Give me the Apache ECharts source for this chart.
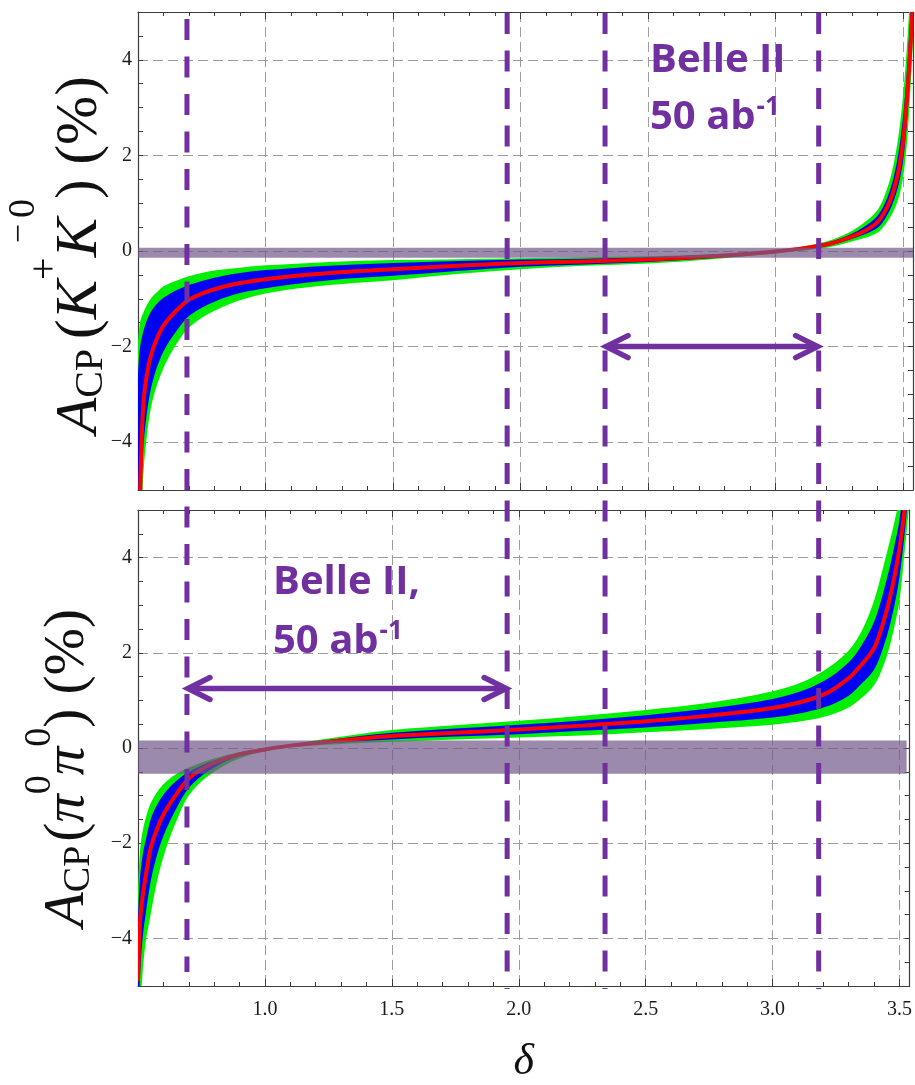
<!DOCTYPE html>
<html>
<head>
<meta charset="utf-8">
<title>A_CP versus delta</title>
<script src="https://cdn.jsdelivr.net/npm/echarts@6.0.0/dist/echarts.min.js"></script>
<style>
  html, body { margin: 0; padding: 0; background: #ffffff; }
  #chart { width: 915px; height: 1085px; }
</style>
</head>
<body>
<div id="chart"></div>
<script>
// ---- data -------------------------------------------------------------
// strong phase delta (rad), shared sampling for both panels
const delta = [0.5, 0.505, 0.51, 0.52, 0.53, 0.55, 0.575, 0.6, 0.65, 0.7, 0.8, 0.9, 1.0, 1.1, 1.25,
  1.5, 1.75, 2.0, 2.25, 2.5, 2.75, 3.0, 3.1, 3.2, 3.3, 3.35, 3.4, 3.45, 3.48, 3.5, 3.52, 3.54];

// A_CP(K+ K0bar) in %: central curve, 1 sigma (blue) and 2 sigma (green) edges
const kkCentral = [-7.5, -6.0, -4.7, -3.3, -2.75, -2.2, -1.82, -1.56, -1.25, -1.02, -0.8, -0.67, -0.59, -0.53, -0.46,
  -0.38, -0.31, -0.25, -0.22, -0.18, -0.11, -0.01, 0.05, 0.135, 0.3, 0.42, 0.6, 1.05, 1.6, 2.25, 3.45, 5.2];
const kkGreenHi = [-1.9, -1.6, -1.45, -1.3, -1.18, -1.0, -0.86, -0.74, -0.62, -0.53, -0.41, -0.35, -0.3, -0.27, -0.23,
  -0.19, -0.17, -0.15, -0.13, -0.11, -0.07, 0.02, 0.09, 0.2, 0.42, 0.6, 0.85, 1.5, 2.3, 3.2, 4.6, 6.8];
const kkGreenLo = [-9.0, -8.0, -6.5, -4.8, -4.1, -3.3, -2.8, -2.45, -1.95, -1.6, -1.25, -1.03, -0.89, -0.8, -0.71,
  -0.61, -0.48, -0.38, -0.31, -0.26, -0.17, -0.05, 0.01, 0.07, 0.2, 0.27, 0.38, 0.7, 1.05, 1.5, 2.5, 4.4];
const kkBlueHi = [-2.6, -2.15, -1.95, -1.7, -1.52, -1.28, -1.1, -0.98, -0.82, -0.71, -0.56, -0.46, -0.4, -0.36, -0.31,
  -0.25, -0.21, -0.18, -0.16, -0.13, -0.08, 0.01, 0.07, 0.17, 0.36, 0.51, 0.73, 1.27, 1.95, 2.75, 4.05, 6.1];
const kkBlueLo = [-8.5, -7.0, -5.6, -4.2, -3.6, -2.9, -2.42, -2.1, -1.68, -1.36, -1.06, -0.88, -0.78, -0.7, -0.61,
  -0.52, -0.42, -0.33, -0.28, -0.23, -0.15, -0.03, 0.03, 0.1, 0.25, 0.35, 0.48, 0.87, 1.32, 1.85, 2.95, 4.8];

// A_CP(pi0 pi0) in %
const ppCentral = [-4.9, -3.95, -3.5, -3.05, -2.7, -2.1, -1.7, -1.4, -0.98, -0.64, -0.31, -0.13, -0.03, 0.05, 0.13,
  0.25, 0.32, 0.39, 0.47, 0.56, 0.68, 0.84, 0.95, 1.12, 1.47, 1.75, 2.1, 2.9, 3.6, 4.2, 5.0, 6.2];
const ppGreenHi = [-3.0, -2.4, -2.05, -1.7, -1.48, -1.16, -0.93, -0.76, -0.55, -0.41, -0.22, -0.09, 0.0, 0.08, 0.2,
  0.38, 0.48, 0.57, 0.68, 0.8, 0.95, 1.19, 1.35, 1.62, 2.05, 2.45, 3.1, 4.1, 4.75, 5.3, 6.5, 8.0];
const ppGreenLo = [-7.5, -6.3, -5.5, -4.6, -4.1, -3.5, -2.8, -2.29, -1.55, -1.0, -0.5, -0.22, -0.07, 0.02, 0.07,
  0.13, 0.18, 0.22, 0.26, 0.33, 0.4, 0.49, 0.55, 0.65, 0.85, 1.05, 1.32, 1.93, 2.55, 3.1, 4.1, 5.2];
const ppBlueHi = [-3.6, -2.95, -2.6, -2.2, -1.95, -1.5, -1.2, -0.98, -0.7, -0.5, -0.26, -0.11, -0.01, 0.07, 0.17,
  0.32, 0.41, 0.49, 0.58, 0.69, 0.83, 1.03, 1.17, 1.4, 1.8, 2.15, 2.65, 3.55, 4.25, 4.8, 5.8, 7.2];
const ppBlueLo = [-6.5, -5.2, -4.6, -3.9, -3.5, -2.8, -2.25, -1.85, -1.28, -0.84, -0.41, -0.17, -0.05, 0.03, 0.1,
  0.18, 0.24, 0.29, 0.36, 0.43, 0.53, 0.64, 0.72, 0.85, 1.1, 1.35, 1.65, 2.35, 3.0, 3.6, 4.5, 5.6];

// Belle II 50 ab^-1 projected ranges [low, high] in %
const kkBelle = [-0.14, 0.07];
const ppBelle = [-0.54, 0.16];

// delta values of the dashed vertical lines
const deltaLines = [0.692, 1.948, 2.332, 3.170];
// double arrows: panel, from line, to line, height (%)
const arrowPanel = [0, 1];
const arrowFrom = [2, 0];
const arrowTo = [3, 1];
const arrowLevel = [-2, 1.25];

// tick labels
const xTickLabels = [1.0, 1.5, 2.0, 2.5, 3.0, 3.5];
const yTickLabels = [-4, -2, 0, 2, 4];

// ---- style -------------------------------------------------------------
const X_MIN = 0.5, X_MAX = 3.54, Y_MIN = -5, Y_MAX = 5;
const SERIF = '"Liberation Serif", "Times New Roman", serif';
const FRAME = '#3c3c3c';
const GRID_COLOR = '#9c9c9c';
const PURPLE = '#7030a0';
const GREEN = '#00f000';
const BLUE = '#0000f2';
const RED = '#ff0000';
const BELLE_FILL = 'rgba(112, 88, 135, 0.7)';

const grids = [
  { left: 138, top: 12, width: 775, height: 478 },
  { left: 138, top: 510, width: 775, height: 483 }
];

function sameValue(a, b) { return Math.abs(a - b) < 1e-6; }

function xAxesFor(g, withLabels) {
  const base = { type: 'value', gridIndex: g, min: X_MIN, max: X_MAX };
  const tickStyle = { color: FRAME, width: 1 };
  return [
    Object.assign({}, base, {
      position: 'bottom', interval: 0.5,
      axisLine: { show: true, onZero: false, lineStyle: { color: FRAME, width: 1.2 } },
      axisTick: { show: true, inside: true, length: 7, lineStyle: tickStyle },
      axisLabel: {
        show: withLabels, margin: 14, fontFamily: SERIF, fontSize: 20, color: '#1a1a1a',
        formatter: v => xTickLabels.some(t => sameValue(t, v)) ? v.toFixed(1) : ''
      },
      splitLine: { show: true, lineStyle: { color: GRID_COLOR, width: 1, type: [10, 5] } },
      name: withLabels ? 'δ' : '',
      nameLocation: 'middle', nameGap: 54,
      nameTextStyle: { fontFamily: SERIF, fontStyle: 'italic', fontSize: 44, color: '#111' }
    }),
    Object.assign({}, base, {
      position: 'bottom', interval: 0.1,
      axisLine: { show: false, onZero: false },
      axisTick: { show: true, inside: true, length: 4, lineStyle: tickStyle },
      axisLabel: { show: false }, splitLine: { show: false }
    }),
    Object.assign({}, base, {
      position: 'top', interval: 0.5,
      axisLine: { show: true, onZero: false, lineStyle: { color: FRAME, width: 1.2 } },
      axisTick: { show: true, inside: true, length: 7, lineStyle: tickStyle },
      axisLabel: { show: false }, splitLine: { show: false }
    }),
    Object.assign({}, base, {
      position: 'top', interval: 0.1,
      axisLine: { show: false, onZero: false },
      axisTick: { show: true, inside: true, length: 4, lineStyle: tickStyle },
      axisLabel: { show: false }, splitLine: { show: false }
    })
  ];
}

function yAxesFor(g) {
  const base = { type: 'value', gridIndex: g, min: Y_MIN, max: Y_MAX };
  const tickStyle = { color: FRAME, width: 1 };
  return [
    Object.assign({}, base, {
      position: 'left', splitNumber: 5,
      axisLine: { show: true, onZero: false, lineStyle: { color: FRAME, width: 1.2 } },
      axisTick: { show: false },
      axisLabel: {
        margin: 6, fontFamily: SERIF, fontSize: 20, color: '#1a1a1a',
        formatter: v => {
          if (!yTickLabels.some(t => sameValue(t, v))) return '';
          const r = Math.round(v);
          return r < 0 ? '\u2212' + Math.abs(r) : String(r);
        }
      },
      splitLine: { show: true, lineStyle: { color: GRID_COLOR, width: 1, type: [10, 5] } }
    }),
    Object.assign({}, base, {
      position: 'left', interval: 0.5,
      axisLine: { show: false, onZero: false },
      axisTick: { show: true, inside: true, length: 5, lineStyle: tickStyle },
      axisLabel: { show: false }, splitLine: { show: false }
    }),
    Object.assign({}, base, {
      position: 'right', interval: 0.5,
      axisLine: { show: true, onZero: false, lineStyle: { color: FRAME, width: 1.2 } },
      axisTick: { show: true, inside: true, length: 5, lineStyle: tickStyle },
      axisLabel: { show: false }, splitLine: { show: false }
    })
  ];
}

function clipOf(params) {
  const cs = params.coordSys;
  return { type: 'rect', shape: { x: cs.x, y: cs.y, width: cs.width, height: cs.height } };
}

// monotone (in x) cubic segments through pixel points: [c1x, c1y, c2x, c2y, x, y] per segment
function monotoneSegments(pts) {
  const n = pts.length;
  const d = [];
  for (let i = 0; i < n - 1; i++) {
    d.push((pts[i + 1][1] - pts[i][1]) / (pts[i + 1][0] - pts[i][0]));
  }
  const m = new Array(n);
  m[0] = d[0];
  m[n - 1] = d[n - 2];
  for (let i = 1; i < n - 1; i++) {
    if (d[i - 1] * d[i] <= 0) { m[i] = 0; continue; }
    const h0 = pts[i][0] - pts[i - 1][0];
    const h1 = pts[i + 1][0] - pts[i][0];
    const w1 = 2 * h1 + h0, w2 = h1 + 2 * h0;
    m[i] = (w1 + w2) / (w1 / d[i - 1] + w2 / d[i]);
  }
  const segs = [];
  for (let i = 0; i < n - 1; i++) {
    const h = pts[i + 1][0] - pts[i][0];
    segs.push([pts[i][0] + h / 3, pts[i][1] + m[i] * h / 3,
      pts[i + 1][0] - h / 3, pts[i + 1][1] - m[i + 1] * h / 3,
      pts[i + 1][0], pts[i + 1][1]]);
  }
  return segs;
}

function curvePath(pts) {
  let s = 'M' + pts[0][0] + ',' + pts[0][1];
  monotoneSegments(pts).forEach(c => { s += 'C' + c.join(','); });
  return s;
}

function bandPath(upper, lower) {
  let s = curvePath(upper);
  const n = lower.length;
  s += 'L' + lower[n - 1][0] + ',' + lower[n - 1][1];
  const segs = monotoneSegments(lower);
  for (let i = segs.length - 1; i >= 0; i--) {
    const c = segs[i];
    s += 'C' + c[2] + ',' + c[3] + ',' + c[0] + ',' + c[1] + ',' + lower[i][0] + ',' + lower[i][1];
  }
  return s + 'Z';
}

// filled band between two edges
function bandSeries(g, lo, hi, color, z) {
  return {
    type: 'custom', xAxisIndex: 4 * g, yAxisIndex: 3 * g, z: z, silent: true,
    data: delta.map((d, i) => [d, lo[i], hi[i]]),
    encode: { x: 0, y: [1, 2] },
    renderItem: function (params, api) {
      if (params.dataIndex !== 0) return null;
      const upper = delta.map((d, i) => api.coord([d, hi[i]]));
      const lower = delta.map((d, i) => api.coord([d, lo[i]]));
      return {
        type: 'path',
        shape: { pathData: bandPath(upper, lower) },
        style: { fill: color, stroke: null },
        clipPath: clipOf(params)
      };
    }
  };
}

// central curve
function curveSeries(g, values) {
  return {
    type: 'custom', xAxisIndex: 4 * g, yAxisIndex: 3 * g, z: 4, silent: true,
    data: delta.map((d, i) => [d, values[i]]),
    encode: { x: 0, y: 1 },
    renderItem: function (params, api) {
      if (params.dataIndex !== 0) return null;
      const pts = delta.map((d, i) => api.coord([d, values[i]]));
      return {
        type: 'path',
        shape: { pathData: curvePath(pts) },
        style: { stroke: RED, lineWidth: 4, fill: null },
        clipPath: clipOf(params)
      };
    }
  };
}

// horizontal experimental band
function belleSeries(g, range, xEnd) {
  return {
    type: 'custom', xAxisIndex: 4 * g, yAxisIndex: 3 * g, z: 6, silent: true,
    data: [[X_MIN, range[0], range[1]]],
    encode: { x: 0, y: [1, 2] },
    renderItem: function (params, api) {
      const p1 = api.coord([X_MIN, range[1]]);
      const p2 = api.coord([xEnd, range[0]]);
      return {
        type: 'rect',
        shape: { x: p1[0], y: p1[1], width: p2[0] - p1[0], height: p2[1] - p1[1] },
        style: { fill: BELLE_FILL }
      };
    }
  };
}

const option = {
  animation: false,
  backgroundColor: '#ffffff',
  grid: grids,
  xAxis: xAxesFor(0, false).concat(xAxesFor(1, true)),
  yAxis: yAxesFor(0).concat(yAxesFor(1)),
  series: [
    bandSeries(0, kkGreenLo, kkGreenHi, GREEN, 2),
    bandSeries(0, kkBlueLo, kkBlueHi, BLUE, 3),
    curveSeries(0, kkCentral),
    belleSeries(0, kkBelle, X_MAX),
    bandSeries(1, ppGreenLo, ppGreenHi, GREEN, 2),
    bandSeries(1, ppBlueLo, ppBlueHi, BLUE, 3),
    curveSeries(1, ppCentral),
    belleSeries(1, ppBelle, 3.528)
  ]
};

const chart = echarts.init(document.getElementById('chart'), null, { renderer: 'canvas' });
chart.setOption(option);

// ---- overlays: dashed lines, arrows, annotations, axis titles ------------
const measureCtx = document.createElement('canvas').getContext('2d');
function textWidth(text, font) { measureCtx.font = font; return measureCtx.measureText(text).width; }
function serifFont(size, italic) { return (italic ? 'italic ' : '') + size + 'px ' + SERIF; }

// y-axis title laid out piece by piece along the baseline, then rotated
function rotatedTitle(pieces, baseX, centerY) {
  const widths = pieces.map(p => textWidth(p.t, serifFont(p.s, p.it)));
  const total = widths.reduce((a, b, i) => a + b + (pieces[i].gap || 0), 0);
  let cursor = -total / 2;
  const children = [];
  pieces.forEach((p, i) => {
    children.push({
      type: 'text', z: 60, x: cursor, y: p.dy - 0.3375 * p.s,
      style: { text: p.t, font: serifFont(p.s, p.it), fill: '#111', textAlign: 'left', textVerticalAlign: 'middle' }
    });
    if (p.bar) {
      children.push({
        type: 'text', z: 60, x: cursor + widths[i] / 2 + p.bar.shift, y: p.bar.dy - 0.3375 * p.bar.s,
        style: { text: '\u2212', font: serifFont(p.bar.s, false), fill: '#111', textAlign: 'center', textVerticalAlign: 'middle' }
      });
    }
    cursor += widths[i] + (p.gap || 0);
  });
  return { type: 'group', x: baseX, y: centerY, rotation: Math.PI / 2, children: children };
}

function belleLabel(x, base1, base2, first) {
  const big = 'bold 40px "Open Sans", sans-serif';
  const small = 'bold 26px "Open Sans", sans-serif';
  const w = textWidth('50 ab', big);
  const st = (text, font) => ({ text: text, font: font, fill: PURPLE, textAlign: 'left', textVerticalAlign: 'middle' });
  return [
    { type: 'text', z: 60, x: x, y: base1 - 0.388 * 40, style: st(first, big) },
    { type: 'text', z: 60, x: x, y: base2 - 0.388 * 40, style: st('50 ab', big) },
    { type: 'text', z: 60, x: x + w + 1, y: base2 - 15 - 0.388 * 26, style: st('-1', small) }
  ];
}

function overlay() {
  const px = v => chart.convertToPixel({ xAxisIndex: 0 }, v);
  const py = (g, v) => chart.convertToPixel({ yAxisIndex: 3 * g }, v);
  const els = [];
  const spans = [[19, 972], [13, 989], [13, 989], [13, 989]];
  deltaLines.forEach((d, i) => {
    const x = px(d);
    els.push({
      type: 'line', z: 50, silent: true,
      shape: { x1: x, y1: spans[i][0], x2: x, y2: spans[i][1] },
      style: { stroke: PURPLE, lineWidth: 5, lineDash: [21, 16.5] }
    });
  });
  arrowPanel.forEach((g, i) => {
    const y = py(g, arrowLevel[i]);
    const xl = px(deltaLines[arrowFrom[i]]) + 1;
    const xr = px(deltaLines[arrowTo[i]]) - 1;
    const st = { stroke: PURPLE, lineWidth: 5.5, fill: null, lineCap: 'round', lineJoin: 'miter' };
    els.push({ type: 'line', z: 55, shape: { x1: xl + 3, y1: y, x2: xr - 3, y2: y }, style: st });
    els.push({ type: 'polyline', z: 55, shape: { points: [[xl + 22, y - 11], [xl, y], [xl + 22, y + 11]] }, style: st });
    els.push({ type: 'polyline', z: 55, shape: { points: [[xr - 22, y - 11], [xr, y], [xr - 22, y + 11]] }, style: st });
  });
  belleLabel(650, 76, 133, 'Belle II').forEach(e => els.push(e));
  belleLabel(273, 598, 657, 'Belle II,').forEach(e => els.push(e));

  els.push(rotatedTitle([
    { t: 'A', s: 59, it: true, dy: 0 },
    { t: 'CP', s: 40, dy: 5, gap: 10 },
    { t: '(', s: 59, dy: 0 },
    { t: 'K', s: 59, it: true, dy: 0 },
    { t: '+', s: 40, dy: -41 },
    { t: 'K', s: 59, it: true, dy: 0, bar: { s: 34, dy: -68, shift: 4 } },
    { t: '0', s: 38, dy: -63 },
    { t: ')', s: 59, dy: 0 },
    { t: ' (%)', s: 59, dy: 0 }
  ], 100, 255));
  els.push(rotatedTitle([
    { t: 'A', s: 57, it: true, dy: 0 },
    { t: 'CP', s: 38, dy: 5, gap: 4 },
    { t: '(', s: 57, dy: 0 },
    { t: 'π', s: 57, it: true, dy: 0 },
    { t: '0', s: 38, dy: -34 },
    { t: 'π', s: 57, it: true, dy: 0 },
    { t: '0', s: 38, dy: -34 },
    { t: ')', s: 57, dy: 0 },
    { t: ' (%)', s: 57, dy: 0 }
  ], 87, 768));
  return els;
}

chart.setOption({ graphic: { elements: overlay() } });
</script>
</body>
</html>
